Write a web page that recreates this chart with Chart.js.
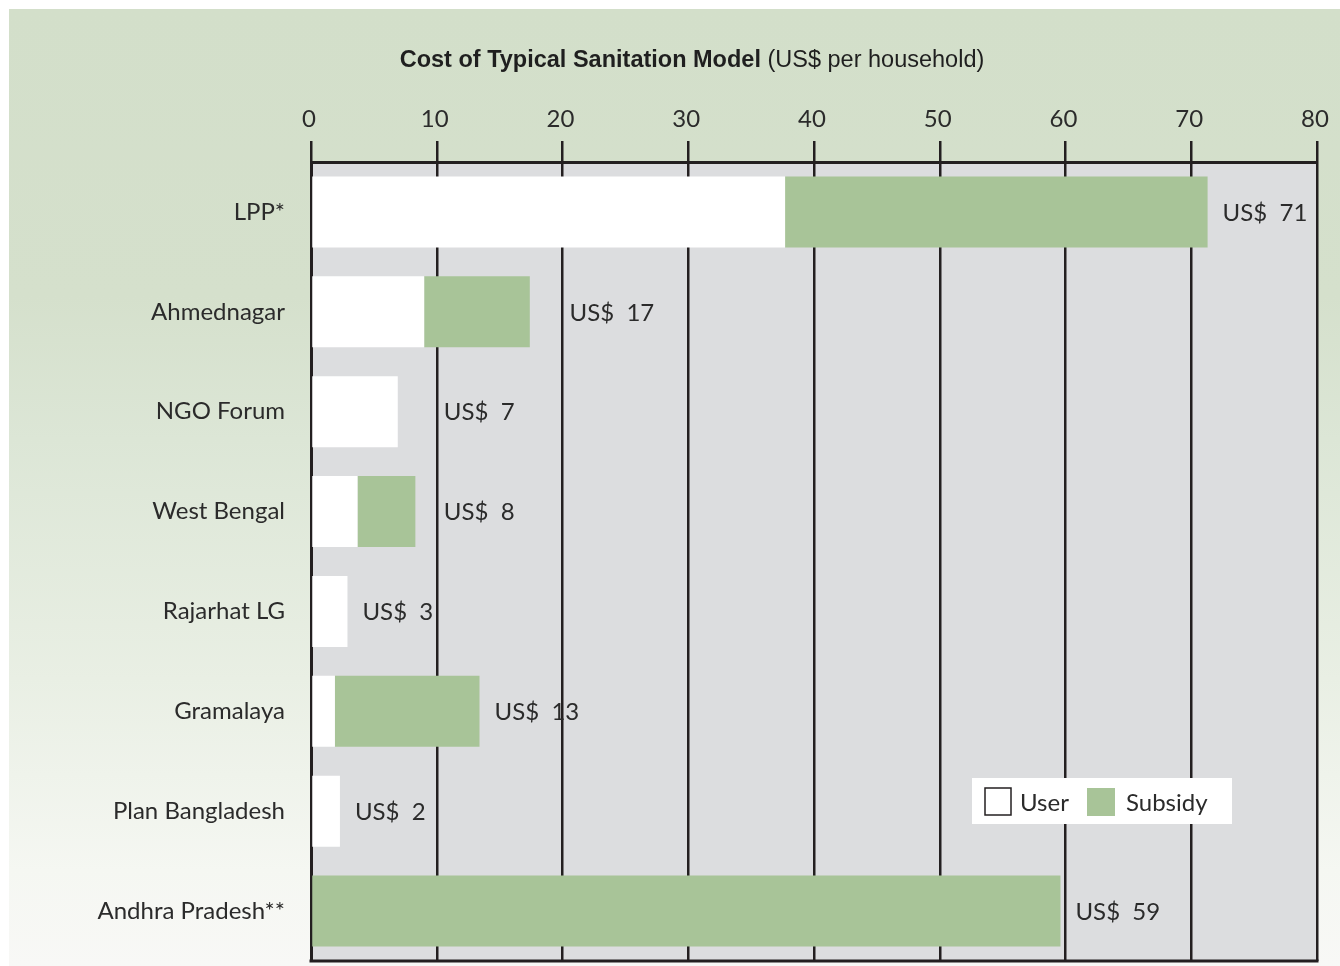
<!DOCTYPE html>
<html>
<head>
<meta charset="utf-8">
<script src="https://cdn.jsdelivr.net/npm/chart.js@4"></script>
<style>
  html, body { margin: 0; padding: 0; background: #fff; }
  #wrap { width: 1340px; height: 966px; }
</style>
</head>
<body>
<div id="wrap"><canvas id="myChart" width="1340" height="966"></canvas></div>
<script>
// data
const categories = ['LPP*', 'Ahmednagar', 'NGO Forum', 'West Bengal', 'Rajarhat LG', 'Gramalaya', 'Plan Bangladesh', 'Andhra Pradesh**'];
const userCost = [37.7, 9.0, 6.9, 3.7, 2.9, 1.9, 2.3, 0];
const subsidyCost = [33.6, 8.4, 0, 4.6, 0, 11.5, 0, 59.6];
const totalLabels = [71, 17, 7, 8, 3, 13, 2, 59];
const xTicks = [0, 10, 20, 30, 40, 50, 60, 70, 80];

const INK = '#231f20';
const TEXT = '#2b2b2b';
const GREEN = '#a8c498';
const FONT = 'Lato, "Open Sans", sans-serif';

// background panel + grey plot area
const backdrop = {
  id: 'backdrop',
  beforeDraw(chart) {
    const c = chart.ctx;
    const a = chart.chartArea;
    c.save();
    c.fillStyle = '#ffffff';
    c.fillRect(0, 0, chart.width, chart.height);
    const g = c.createLinearGradient(0, 9, 0, chart.height);
    g.addColorStop(0, '#d3dfca');
    g.addColorStop(0.3, '#d5e0cc');
    g.addColorStop(0.45, '#dce6d6');
    g.addColorStop(0.7, '#e9efe4');
    g.addColorStop(0.9, '#f5f7f2');
    g.addColorStop(1, '#f8f8f6');
    c.fillStyle = g;
    c.fillRect(9, 9, chart.width - 9, chart.height - 9);
    c.fillStyle = '#dcdddf';
    c.fillRect(a.left, a.top, a.right - a.left, a.bottom - a.top);
    c.restore();
  },
  afterDraw(chart) {
    const c = chart.ctx;
    const a = chart.chartArea;
    c.save();
    c.strokeStyle = INK;
    c.lineWidth = 3;
    c.beginPath();
    c.moveTo(a.left - 1.5, a.bottom);
    c.lineTo(a.right + 1.5, a.bottom);
    c.stroke();
    c.restore();
  }
};

// title with bold and regular parts
const titlePlugin = {
  id: 'titlePlugin',
  afterDraw(chart) {
    const c = chart.ctx;
    const boldPart = 'Cost of Typical Sanitation Model';
    const normPart = ' (US$ per household)';
    const fam = '"Liberation Sans Narrow", "Liberation Sans", Arial, sans-serif';
    c.save();
    c.textBaseline = 'middle';
    c.fillStyle = '#1f1f1f';
    c.font = 'bold 23.5px ' + fam;
    const w1 = c.measureText(boldPart).width;
    c.font = '23.5px ' + fam;
    const w2 = c.measureText(normPart).width;
    const x0 = 692 - (w1 + w2) / 2;
    c.font = 'bold 23.5px ' + fam;
    c.fillText(boldPart, x0, 61);
    c.font = '23.5px ' + fam;
    c.fillText(normPart, x0 + w1, 61);
    c.restore();
  }
};

// "US$ nn" labels at the end of each bar, nudged past a gridline if one cuts the "US$"
const totalsPlugin = {
  id: 'totalsPlugin',
  afterDatasetsDraw(chart) {
    const c = chart.ctx;
    const xs = chart.scales.x;
    const ys = chart.scales.y;
    const gridPx = xTicks.map(v => xs.getPixelForValue(v));
    c.save();
    c.font = '24px ' + FONT;
    c.fillStyle = TEXT;
    c.textBaseline = 'middle';
    categories.forEach((cat, i) => {
      const end = userCost[i] + subsidyCost[i];
      let x = xs.getPixelForValue(end) + 15;
      const hit = gridPx.find(p => p > x - 2 && p < x + 48);
      if (hit !== undefined) x = hit + 7;
      c.fillText('US$  ' + totalLabels[i], x, ys.getPixelForValue(i) + 1);
    });
    c.restore();
  }
};

// legend box inside the plot, bottom right
const legendBox = {
  id: 'legendBox',
  afterDraw(chart) {
    const c = chart.ctx;
    const a = chart.chartArea;
    const bx = a.right - 345, by = 778;
    c.save();
    c.fillStyle = '#ffffff';
    c.fillRect(bx, by, 260, 46);
    c.strokeStyle = INK;
    c.lineWidth = 1.5;
    c.strokeRect(bx + 13, by + 10, 26, 27);
    c.fillStyle = GREEN;
    c.fillRect(bx + 115, by + 10, 28, 28);
    c.font = '24px ' + FONT;
    c.fillStyle = TEXT;
    c.textBaseline = 'middle';
    c.fillText(chart.data.datasets[0].label, bx + 48, by + 25);
    c.fillText(chart.data.datasets[1].label, bx + 154, by + 25);
    c.restore();
  }
};

const ctx = document.getElementById('myChart').getContext('2d');

const myChart = new Chart(ctx, {
  type: 'bar',
  data: {
    labels: categories,
    datasets: [{
      label: 'User',
      data: userCost,
      backgroundColor: '#ffffff',
      borderWidth: 0
    }, {
      label: 'Subsidy',
      data: subsidyCost,
      backgroundColor: GREEN,
      borderWidth: 0
    }]
  },
  options: {
    indexAxis: 'y',
    responsive: false,
    animation: false,
    layout: {
      padding: { left: 10, right: 23, top: 90, bottom: 5 }
    },
    datasets: {
      bar: { categoryPercentage: 1, barPercentage: 0.71 }
    },
    scales: {
      x: {
        position: 'top',
        stacked: true,
        min: 0,
        max: 80,
        afterBuildTicks(scale) {
          scale.ticks = xTicks.map(v => ({ value: v }));
        },
        afterFit(scale) {
          scale.height = 72;
          scale.paddingLeft = 0;
          scale.paddingRight = 0;
        },
        grid: {
          color: INK,
          lineWidth: 2.5,
          drawTicks: true,
          tickLength: 21,
          tickColor: INK
        },
        border: { display: true, color: INK, width: 3 },
        ticks: {
          font: { family: FONT, size: 24 },
          color: TEXT,
          padding: 7,
          labelOffset: -2,
          maxRotation: 0
        }
      },
      y: {
        stacked: true,
        afterFit(scale) {
          scale.width = 301;
          scale.paddingTop = 0;
          scale.paddingBottom = 0;
        },
        grid: { display: false },
        border: { display: true, color: INK, width: 3 },
        ticks: {
          font: { family: FONT, size: 24 },
          color: TEXT,
          padding: 18
        }
      }
    },
    plugins: {
      legend: { display: false },
      tooltip: { enabled: false }
    }
  },
  plugins: [backdrop, titlePlugin, totalsPlugin, legendBox]
});
</script>
</body>
</html>
